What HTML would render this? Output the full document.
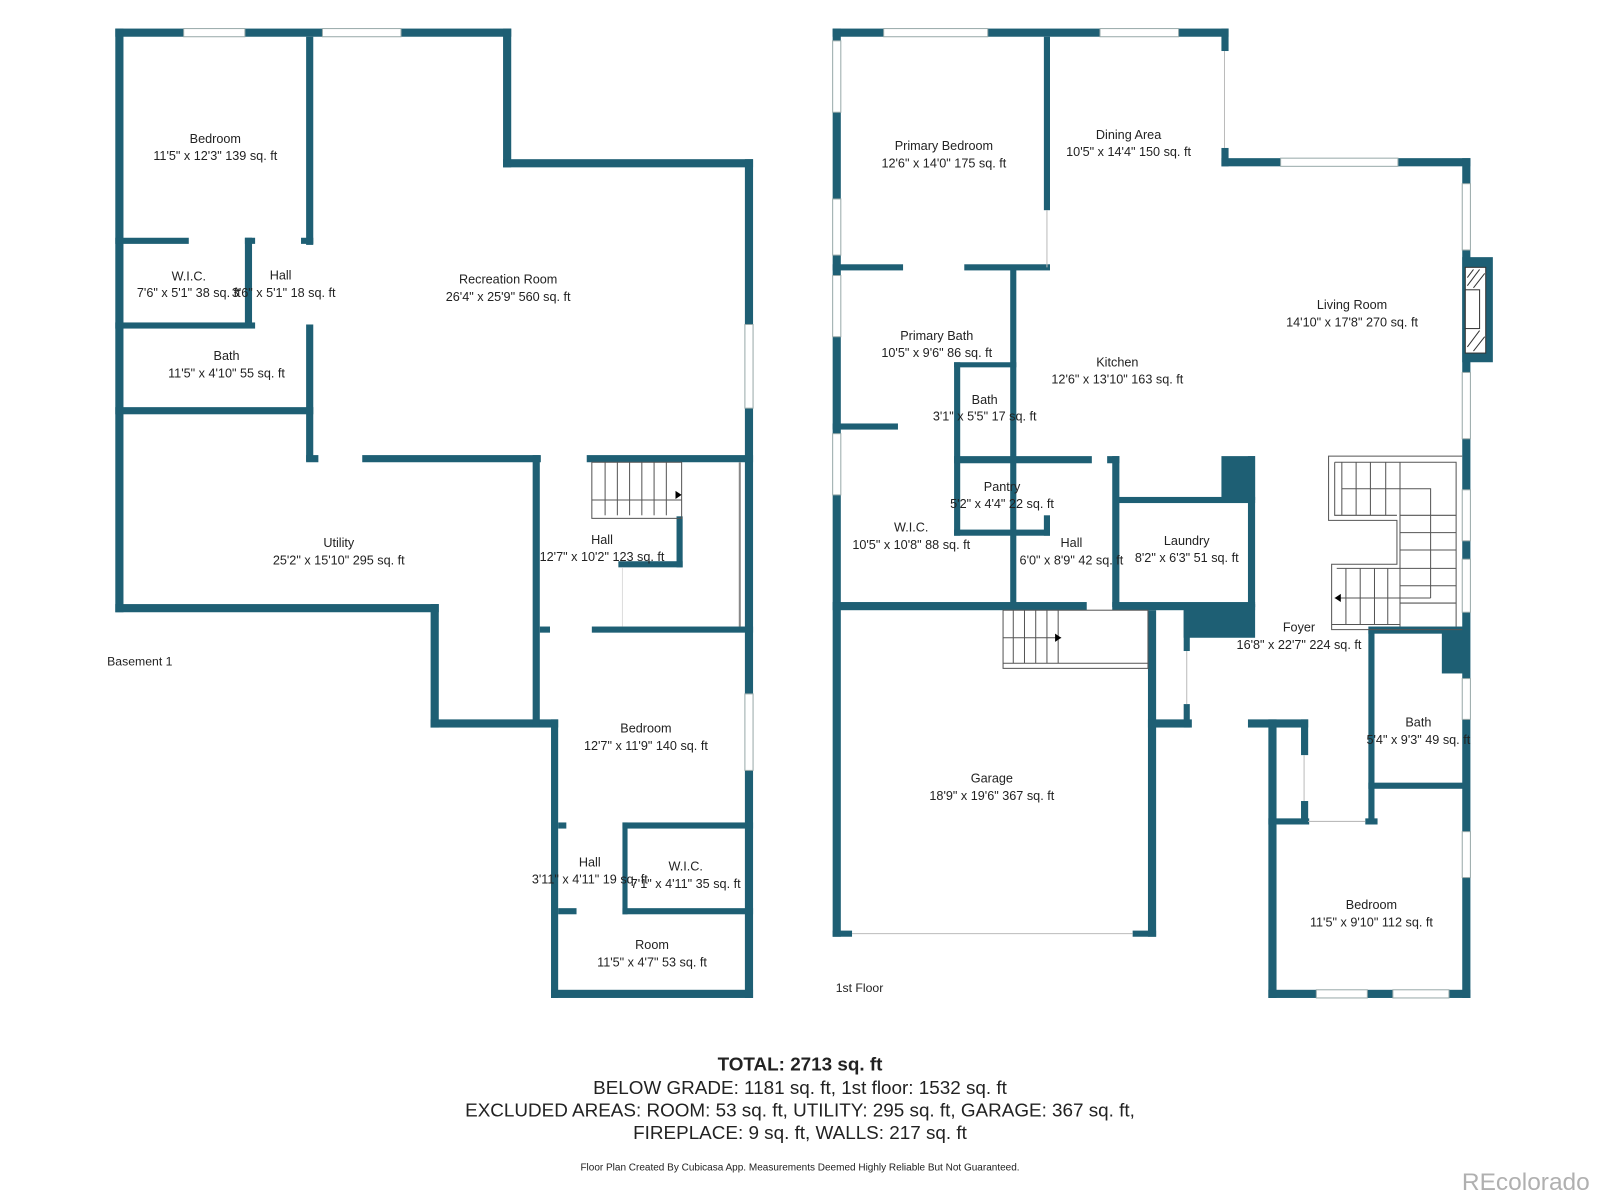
<!DOCTYPE html>
<html><head><meta charset="utf-8"><style>
html,body{margin:0;padding:0;background:#fff;}
svg{display:block;}
text{font-family:"Liberation Sans",sans-serif;fill:#222;}
</style></head><body>
<svg width="1600" height="1200" viewBox="0 0 1568 1176" preserveAspectRatio="none" xmlns="http://www.w3.org/2000/svg">
<g fill="#1e5f74">
<!-- BASEMENT -->
<rect x="113" y="28" width="388" height="8"/>
<rect x="113" y="28" width="8" height="572"/>
<rect x="493" y="28" width="8" height="136"/>
<rect x="493" y="156" width="245" height="8"/>
<rect x="730" y="156" width="8" height="822"/>
<rect x="300" y="36" width="7" height="204"/>
<rect x="300" y="318" width="7" height="134"/>
<rect x="113" y="233" width="72" height="6"/>
<rect x="240" y="233" width="10" height="6"/>
<rect x="295" y="233" width="12" height="6"/>
<rect x="240" y="233" width="7" height="88"/>
<rect x="113" y="316" width="137" height="6"/>
<rect x="113" y="399" width="194" height="7"/>
<rect x="300" y="446" width="12" height="7"/>
<rect x="355" y="446" width="175" height="7"/>
<rect x="575" y="446" width="163" height="7"/>
<rect x="113" y="592" width="317" height="8"/>
<rect x="422" y="592" width="8" height="121"/>
<rect x="422" y="705" width="125" height="8"/>
<rect x="522" y="446" width="7" height="266"/>
<rect x="540" y="705" width="7" height="273"/>
<rect x="529" y="614" width="10" height="6"/>
<rect x="580" y="614" width="158" height="6"/>
<rect x="663" y="506" width="6" height="50"/>
<rect x="606" y="550" width="63" height="6"/>
<rect x="547" y="806" width="8" height="6"/>
<rect x="610" y="806" width="128" height="6"/>
<rect x="610" y="806" width="5" height="90"/>
<rect x="547" y="890" width="18" height="6"/>
<rect x="610" y="890" width="128" height="6"/>
<rect x="540" y="970" width="198" height="8"/>
<!-- FIRST FLOOR -->
<rect x="816" y="28" width="388" height="8"/>
<rect x="816" y="28" width="8" height="890"/>
<rect x="1197" y="28" width="7" height="22"/>
<rect x="1197" y="145" width="7" height="18"/>
<rect x="1197" y="155" width="244" height="8"/>
<rect x="1433" y="155" width="8" height="823"/>
<rect x="1433" y="252" width="30" height="103"/>
<rect x="1023" y="36" width="6" height="170"/>
<rect x="816" y="259" width="69" height="6"/>
<rect x="945" y="259" width="84" height="6"/>
<rect x="990" y="262" width="6" height="333"/>
<rect x="935" y="355" width="61" height="5"/>
<rect x="935" y="355" width="6" height="170"/>
<rect x="816" y="415" width="64" height="6"/>
<rect x="935" y="447" width="135" height="7"/>
<rect x="1085" y="447" width="12" height="7"/>
<rect x="1090" y="447" width="7" height="148"/>
<rect x="1093" y="487" width="137" height="6"/>
<rect x="1197" y="447" width="33" height="43"/>
<rect x="1223" y="447" width="7" height="148"/>
<rect x="935" y="519" width="94" height="6"/>
<rect x="1023" y="505" width="6" height="20"/>
<rect x="816" y="590" width="249" height="8"/>
<rect x="1090" y="590" width="140" height="8"/>
<rect x="1160" y="592" width="70" height="33"/>
<rect x="1125" y="598" width="8" height="320"/>
<rect x="816" y="912" width="19" height="6"/>
<rect x="1110" y="912" width="23" height="6"/>
<rect x="1160" y="598" width="6" height="40"/>
<rect x="1160" y="690" width="6" height="23"/>
<rect x="1125" y="705" width="43" height="8"/>
<rect x="1223" y="705" width="59" height="8"/>
<rect x="1243" y="705" width="8" height="273"/>
<rect x="1275" y="705" width="7" height="35"/>
<rect x="1275" y="785" width="7" height="23"/>
<rect x="1243" y="802" width="40" height="6"/>
<rect x="1338" y="802" width="12" height="6"/>
<rect x="1341" y="617" width="6" height="191"/>
<rect x="1341" y="614" width="96" height="7"/>
<rect x="1413" y="617" width="24" height="43"/>
<rect x="1341" y="767" width="96" height="6"/>
<rect x="1243" y="970" width="198" height="8"/>
</g>
<!-- windows -->
<g fill="#fff" stroke="#9aa" stroke-width="1">
<rect x="180" y="28" width="60" height="8"/>
<rect x="316" y="28" width="77" height="8"/>
<rect x="730" y="318" width="8" height="82"/>
<rect x="730" y="680" width="8" height="75"/>
<rect x="866" y="28" width="102" height="8"/>
<rect x="1078" y="28" width="77" height="8"/>
<rect x="1255" y="155" width="115" height="8"/>
<rect x="816" y="40" width="8" height="70"/>
<rect x="816" y="195" width="8" height="55"/>
<rect x="816" y="270" width="8" height="60"/>
<rect x="816" y="425" width="8" height="60"/>
<rect x="1433" y="180" width="8" height="65"/>
<rect x="1433" y="365" width="8" height="65"/>
<rect x="1433" y="480" width="8" height="50"/>
<rect x="1433" y="548" width="8" height="52"/>
<rect x="1433" y="665" width="8" height="40"/>
<rect x="1433" y="815" width="8" height="45"/>
<rect x="1290" y="970" width="50" height="8"/>
<rect x="1365" y="970" width="55" height="8"/>
</g>
<g stroke="#bbb" stroke-width="1" fill="none">
<line x1="1200" y1="50" x2="1200" y2="145"/>
<line x1="1026" y1="206" x2="1026" y2="262"/>
<line x1="835" y1="915" x2="1110" y2="915"/>
<line x1="1278" y1="740" x2="1278" y2="785"/>
<line x1="1163" y1="638" x2="1163" y2="690"/>
<line x1="1282" y1="805" x2="1338" y2="805"/>
</g>
<!-- fireplace -->
<rect x="1436" y="262" width="20" height="84" fill="#fff" stroke="#333" stroke-width="1"/>
<rect x="1436" y="284" width="14" height="38" fill="#fff" stroke="#333" stroke-width="1"/>
<g stroke="#333" stroke-width="1"><line x1="1438" y1="280" x2="1450" y2="264"/><line x1="1438" y1="272" x2="1444" y2="264"/><line x1="1444" y1="282" x2="1455" y2="268"/><line x1="1438" y1="340" x2="1450" y2="324"/><line x1="1444" y1="344" x2="1455" y2="330"/></g>
<!-- stairs -->
<g stroke="#555" stroke-width="1" fill="none">
<rect x="580" y="453" width="88" height="55"/>
<line x1="593" y1="453" x2="593" y2="505"/><line x1="605" y1="453" x2="605" y2="505"/><line x1="617" y1="453" x2="617" y2="505"/><line x1="629" y1="453" x2="629" y2="505"/><line x1="641" y1="453" x2="641" y2="505"/><line x1="653" y1="453" x2="653" y2="505"/>
<line x1="580" y1="490" x2="668" y2="490"/>
<line x1="725" y1="453" x2="725" y2="614" stroke="#888" stroke-width="2"/>
<line x1="610" y1="556" x2="610" y2="614" stroke="#ddd"/>
<rect x="983" y="598" width="142" height="57"/>
<line x1="983" y1="650" x2="1125" y2="650"/>
<line x1="993" y1="598" x2="993" y2="650"/><line x1="1004" y1="598" x2="1004" y2="650"/><line x1="1015" y1="598" x2="1015" y2="650"/><line x1="1026" y1="598" x2="1026" y2="650"/><line x1="1037" y1="598" x2="1037" y2="650"/>
<line x1="983" y1="625" x2="1040" y2="625"/>
<!-- foyer stair -->
<path d="M1433 447 H1302 V510 H1369 V553 H1305 V617 H1433"/>
<path d="M1308 453 H1427 V614 M1308 453 V505 H1369"/>
<path d="M1315 453 V505 M1329 453 V505 M1343 453 V505 M1358 453 V505 M1372 453 V557"/>
<path d="M1315 479 H1402 V586"/>
<path d="M1372 505 H1427 M1372 522 H1427 M1372 539 H1427 M1372 557 H1427 M1372 574 H1427 M1372 591 H1427"/>
<path d="M1310 557 H1372 V614 M1319 557 V612 M1333 557 V612 M1347 557 V612 M1360 557 V612"/>
<line x1="1308" y1="586" x2="1402" y2="586"/>
<line x1="1305" y1="612" x2="1372" y2="612"/>
</g>
<g fill="#000">
<polygon points="668,485 662,481 662,489"/>
<polygon points="1040,625 1034,621 1034,629"/>
<polygon points="1308,586 1314,582 1314,590"/>
</g>
<!-- labels -->
<g font-size="12.4" text-anchor="middle">
<text x="211" y="140">Bedroom</text><text x="211" y="157">11'5" x 12'3" 139 sq. ft</text>
<text x="185" y="275">W.I.C.</text><text x="185" y="291">7'6" x 5'1" 38 sq. ft</text>
<text x="275" y="274">Hall</text><text x="278" y="291">3'6" x 5'1" 18 sq. ft</text>
<text x="222" y="353">Bath</text><text x="222" y="370">11'5" x 4'10" 55 sq. ft</text>
<text x="498" y="278">Recreation Room</text><text x="498" y="295">26'4" x 25'9" 560 sq. ft</text>
<text x="332" y="536">Utility</text><text x="332" y="553">25'2" x 15'10" 295 sq. ft</text>
<text x="590" y="533">Hall</text><text x="590" y="550">12'7" x 10'2" 123 sq. ft</text>
<text x="633" y="718">Bedroom</text><text x="633" y="735">12'7" x 11'9" 140 sq. ft</text>
<text x="578" y="849">Hall</text><text x="578" y="866">3'11" x 4'11" 19 sq. ft</text>
<text x="672" y="853">W.I.C.</text><text x="672" y="870">7'1" x 4'11" 35 sq. ft</text>
<text x="639" y="930">Room</text><text x="639" y="947">11'5" x 4'7" 53 sq. ft</text>
<text x="925" y="147">Primary Bedroom</text><text x="925" y="164">12'6" x 14'0" 175 sq. ft</text>
<text x="1106" y="136">Dining Area</text><text x="1106" y="153">10'5" x 14'4" 150 sq. ft</text>
<text x="1325" y="303">Living Room</text><text x="1325" y="320">14'10" x 17'8" 270 sq. ft</text>
<text x="918" y="333">Primary Bath</text><text x="918" y="350">10'5" x 9'6" 86 sq. ft</text>
<text x="1095" y="359">Kitchen</text><text x="1095" y="376">12'6" x 13'10" 163 sq. ft</text>
<text x="965" y="396">Bath</text><text x="965" y="412">3'1" x 5'5" 17 sq. ft</text>
<text x="982" y="481">Pantry</text><text x="982" y="498">5'2" x 4'4" 22 sq. ft</text>
<text x="893" y="521">W.I.C.</text><text x="893" y="538">10'5" x 10'8" 88 sq. ft</text>
<text x="1050" y="536">Hall</text><text x="1050" y="553">6'0" x 8'9" 42 sq. ft</text>
<text x="1163" y="534">Laundry</text><text x="1163" y="551">8'2" x 6'3" 51 sq. ft</text>
<text x="1273" y="619">Foyer</text><text x="1273" y="636">16'8" x 22'7" 224 sq. ft</text>
<text x="1390" y="712">Bath</text><text x="1390" y="729">5'4" x 9'3" 49 sq. ft</text>
<text x="972" y="767">Garage</text><text x="972" y="784">18'9" x 19'6" 367 sq. ft</text>
<text x="1344" y="891">Bedroom</text><text x="1344" y="908">11'5" x 9'10" 112 sq. ft</text>
</g>
<text x="105" y="652" font-size="12">Basement 1</text>
<text x="819" y="972" font-size="12">1st Floor</text>
<g text-anchor="middle">
<text x="784" y="1049" font-size="18.5" font-weight="bold" fill="#000">TOTAL: 2713 sq. ft</text>
<text x="784" y="1072" font-size="18.5">BELOW GRADE: 1181 sq. ft, 1st floor: 1532 sq. ft</text>
<text x="784" y="1094" font-size="18.5">EXCLUDED AREAS: ROOM: 53 sq. ft, UTILITY: 295 sq. ft, GARAGE: 367 sq. ft,</text>
<text x="784" y="1116" font-size="18.5">FIREPLACE: 9 sq. ft, WALLS: 217 sq. ft</text>
<text x="784" y="1147" font-size="9.8">Floor Plan Created By Cubicasa App. Measurements Deemed Highly Reliable But Not Guaranteed.</text>
</g>
<text x="1558" y="1166" font-size="24" text-anchor="end" style="fill:#b0b0b0">REcolorado</text>
</svg>
</body></html>
